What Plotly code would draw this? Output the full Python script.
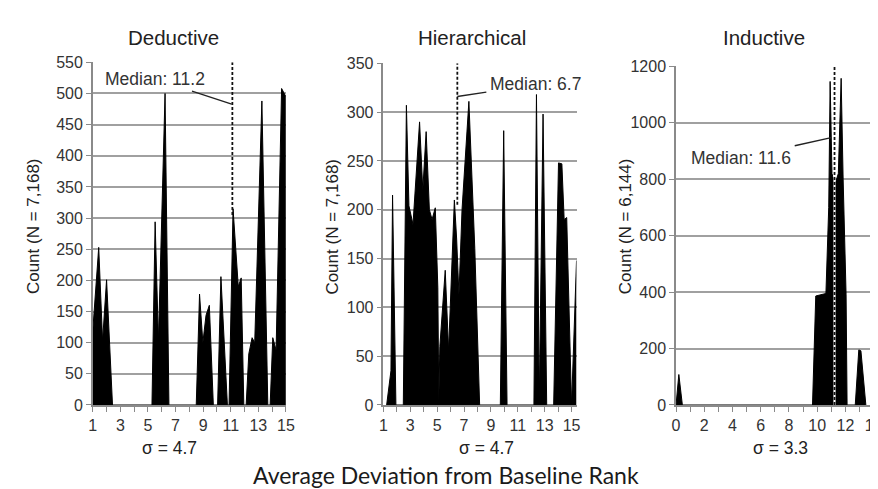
import plotly.graph_objects as go

W, H = 878, 489

# ---------------- data ----------------
panel_titles = ["Deductive", "Hierarchical", "Inductive"]
y_titles = ["Count (N = 7,168)", "Count (N = 7,168)", "Count (N = 6,144)"]
sigma_labels = ["σ = 4.7", "σ = 4.7", "σ = 3.3"]
x_title = "Average Deviation from Baseline Rank"

ded_x = [1.0, 1.43, 1.71, 2.0, 2.43,
         5.29, 5.52, 5.76, 6.24, 6.52,
         8.5, 8.74, 8.98, 9.21, 9.45, 9.74,
         10.05, 10.29, 10.76,
         10.88, 11.17, 11.55, 11.76, 11.95,
         12.12, 12.31, 12.55, 12.74, 13.26, 13.69,
         13.86, 14.05, 14.29, 14.69, 15.0]
ded_y = [120, 253, 103, 201, 0,
         0, 294, 103, 500, 0,
         0, 178, 100, 144, 160, 0,
         0, 206, 0,
         0, 315, 190, 204, 0,
         0, 82, 108, 100, 488, 0,
         0, 108, 88, 508, 495]

hie_x = [1.24, 1.56, 1.68, 1.93,
         2.48, 2.71, 2.9, 3.2, 3.69, 3.93, 4.18, 4.42, 4.62, 4.86, 5.05, 5.12,
         5.2, 5.6, 5.85, 6.28, 6.45, 6.62, 6.85, 7.36, 7.8, 8.16,
         9.7, 9.95, 10.2,
         12.2, 12.39, 12.6, 12.88, 13.15,
         13.67, 13.9, 14.03, 14.28, 14.45, 14.64, 14.8, 15.0, 15.37]
hie_y = [0, 35, 215, 0,
         0, 307, 204, 185, 290, 220, 280, 200, 190, 202, 120, 3,
         60, 138, 56, 210, 170, 113, 200, 311, 160, 0,
         0, 281, 0,
         0, 318, 5, 298, 0,
         0, 150, 248, 247, 190, 192, 100, 0, 148]

ind_x = [0.0, 0.2, 0.45,
         9.67, 9.9, 10.62, 10.82, 10.92, 11.05, 11.25, 11.5, 11.7, 11.84, 12.05, 12.12,
         12.7, 12.95, 13.1, 13.45]
ind_y = [0, 108, 0,
         0, 386, 395, 700, 1146, 820, 780, 820, 1157, 800, 390, 0,
         0, 195, 192, 0]

median_labels = ["Median: 11.2", "Median: 6.7", "Median: 11.6"]
median_line_x = [11.12, 6.5, 11.23]
median_line_bottom = [305, 205, 0]
median_arrow_x = [11.07, 6.5, 11.0]
median_arrow_y = [483, 316, 947]

y_max = [550, 350, 1200]
y_step = [50, 50, 200]
x_ranges = [[1, 15], [1, 15.37], [0, 14.24]]
x_label_vals = [list(range(1, 16, 2)), list(range(1, 16, 2)), list(range(0, 15, 2))]

series = [(ded_x, ded_y), (hie_x, hie_y), (ind_x, ind_y)]

# ---------------- layout geometry (pixels) ----------------
def fx(p):
    return p / W

def fy(p):
    return 1 - p / H

x_dom = [[fx(82), fx(278)], [fx(377), fx(573)], [fx(674), 1.0]]
y_dom = [[fy(403), fy(48)], [fy(403), fy(49)], [fy(403), fy(52)]]

FONT = "Arial"
GRID = "#a0a0a0"
AXC = "#8a8a8a"
TXT = "#333333"

fig = go.Figure()
layout = dict(
    width=W, height=H,
    margin=dict(l=0, r=0, t=0, b=0),
    paper_bgcolor="white", plot_bgcolor="white",
    showlegend=False,
    font=dict(family=FONT, size=16, color=TXT),
)

shapes = []
annotations = []

for i in range(3):
    sx = "" if i == 0 else str(i + 1)
    xs, ys = series[i]
    fig.add_trace(go.Scatter(
        x=xs, y=ys, mode="lines", fill="tozeroy",
        fillcolor="black", line=dict(color="black", width=1),
        xaxis="x" + sx, yaxis="y" + sx, hoverinfo="skip"))
    layout["xaxis" + sx] = dict(
        domain=x_dom[i], anchor="y" + sx, range=x_ranges[i],
        tickmode="array", tickvals=x_label_vals[i],
        ticks="outside", ticklen=5, tickwidth=1.2, tickcolor=AXC,
        minor=dict(ticks="outside", dtick=1, tick0=0, ticklen=5,
                   tickwidth=1.2, tickcolor=AXC),
        showline=True, linecolor=AXC, linewidth=1.5,
        showgrid=False, zeroline=False, fixedrange=True,
        tickfont=dict(family=FONT, size=16, color=TXT))
    layout["yaxis" + sx] = dict(
        domain=y_dom[i], anchor="x" + sx, range=[0, y_max[i]],
        tick0=0, dtick=y_step[i],
        ticks="outside", ticklen=5, tickwidth=1.2, tickcolor=AXC,
        showline=True, linecolor=AXC, linewidth=1.5,
        showgrid=True, gridcolor=GRID, gridwidth=1.5,
        zeroline=False, fixedrange=True,
        tickfont=dict(family=FONT, size=16, color=TXT))

    # median line
    if i == 2:
        shapes.append(dict(type="line", xref="x" + sx, yref="y" + sx,
                           x0=median_line_x[i], x1=median_line_x[i],
                           y0=median_line_bottom[i], y1=y_max[i],
                           line=dict(color="white", width=2.2)))
    shapes.append(dict(type="line", xref="x" + sx, yref="y" + sx,
                       x0=median_line_x[i], x1=median_line_x[i],
                       y0=median_line_bottom[i], y1=y_max[i],
                       line=dict(color="#111111", width=1.8, dash="3px,2px")))

# median annotations with leader lines
offsets = [(-77, -25), (78, -12), (-90, 20)]
for i in range(3):
    sx = "" if i == 0 else str(i + 1)
    annotations.append(dict(
        x=median_arrow_x[i], y=median_arrow_y[i], xref="x" + sx, yref="y" + sx,
        text=median_labels[i], showarrow=True, arrowhead=0, arrowwidth=1.3,
        arrowcolor="#222222", ax=offsets[i][0], ay=offsets[i][1],
        standoff=0, startstandoff=2,
        font=dict(family=FONT, size=17.5, color=TXT)))

# titles, axis titles, sigma labels
title_pos = [(164, 22), (467, 22), (763, 22)]
ytitle_pos = [(22, 218), (325, 218), (623, 218)]
sigma_pos = [(160, 448), (482, 448), (780, 448)]
for i in range(3):
    annotations.append(dict(x=fx(title_pos[i][0]), y=fy(title_pos[i][1]),
                            xref="paper", yref="paper", text=panel_titles[i],
                            showarrow=False, xanchor="center", yanchor="middle",
                            font=dict(family=FONT, size=20.5, color="#222222")))
    annotations.append(dict(x=fx(ytitle_pos[i][0]), y=fy(ytitle_pos[i][1]),
                            xref="paper", yref="paper", text=y_titles[i],
                            showarrow=False, xanchor="center", yanchor="middle",
                            textangle=-90,
                            font=dict(family=FONT, size=17, color="#222222")))
    annotations.append(dict(x=fx(sigma_pos[i][0]), y=fy(sigma_pos[i][1]),
                            xref="paper", yref="paper", text=sigma_labels[i],
                            showarrow=False, xanchor="center", yanchor="middle",
                            font=dict(family=FONT, size=17.5, color="#222222")))

annotations.append(dict(x=fx(441), y=fy(476), xref="paper", yref="paper",
                        text=x_title, showarrow=False,
                        xanchor="center", yanchor="middle",
                        font=dict(family="Lato", size=23, color="#1a1a1a")))

layout["shapes"] = shapes
layout["annotations"] = annotations
fig.update_layout(**layout)

fig.write_html("out.html")
